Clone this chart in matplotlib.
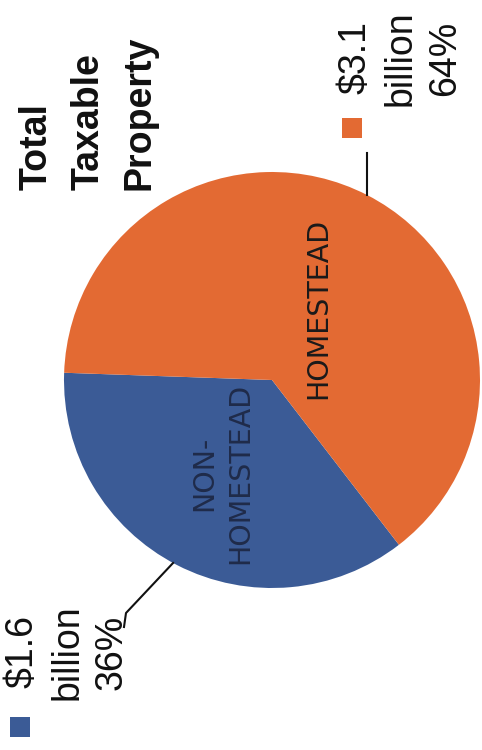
import numpy as np
import matplotlib.pyplot as plt

# Total taxable property, split by class
labels = ['NON-\nHOMESTEAD', 'HOMESTEAD']
shares = [36, 64]
amounts = ['$1.6', '$3.1']
colors = ['#3b5b96', '#e36a33']

W, H = 482, 750
fig = plt.figure(figsize=(W / 100, H / 100), dpi=100)
ax = fig.add_axes([0, 0, 1, 1])

# pie (whole chart is turned on its side)
cx, cy, r = 272, 370, 208
start = 178
ax.pie(shares, colors=colors, startangle=start, counterclock=True,
       center=(cx, cy), radius=r, frame=True,
       wedgeprops=dict(linewidth=0))
ax.set_xlim(0, W)
ax.set_ylim(0, H)
ax.set_aspect('equal')
ax.axis('off')

def edge(angle):
    a = np.deg2rad(angle)
    return cx + r * np.cos(a), cy + r * np.sin(a)

narrow = ['Liberation Sans Narrow', 'DejaVu Sans Condensed']
# wedge labels
ax.text(318, 442, labels[1], rotation=90, ha='center', va='center',
        fontsize=20.5, family=narrow, color='#1a1a1a')
ax.text(222, 277, labels[0], rotation=90, ha='center', va='center',
        multialignment='center', fontsize=20.5, family=narrow,
        color='#1f2b4a', linespacing=1.35)

# title
ax.text(19, 560, 'Total\nTaxable\nProperty', rotation=90, ha='left', va='bottom',
        multialignment='left', fontsize=27, fontweight='bold',
        family='Liberation Sans', color='#111111', linespacing=1.55)

# value callouts
ax.text(338, 692, f'{amounts[1]}\nbillion\n{shares[1]}%', rotation=90,
        ha='left', va='center', multialignment='center', fontsize=27,
        family='Liberation Sans', color='#111111', linespacing=1.3)
ax.text(5, 98, f'{amounts[0]}\nbillion\n{shares[0]}%', rotation=90,
        ha='left', va='center', multialignment='center', fontsize=27,
        family='Liberation Sans', color='#111111', linespacing=1.3)

# key squares
ax.scatter([352], [622], marker='s', s=190, color=colors[1], linewidths=0)
ax.scatter([20], [23], marker='s', s=200, color=colors[0], linewidths=0)

# leader lines
ex, ey = edge(62.8)
ax.plot([ex, ex], [ey, 597], color='#111111', lw=1.5)
bx, by = edge(241.6)
ax.plot([bx, 126, 124], [by, 137, 123], color='#111111', lw=1.5)

fig.savefig('out.png', dpi=100, facecolor='white')
